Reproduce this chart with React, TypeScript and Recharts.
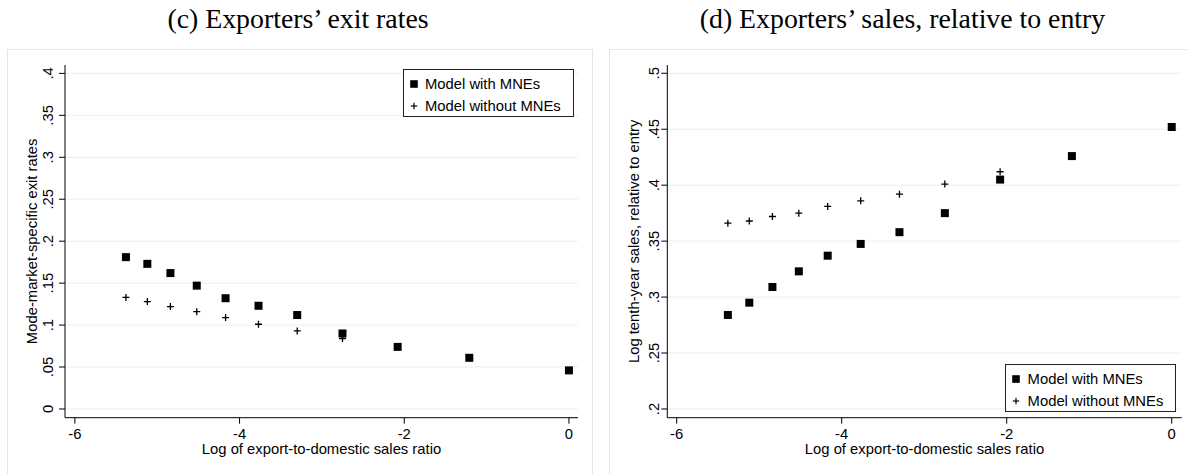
import React from 'react';
import { ScatterChart, Scatter, XAxis, YAxis, CartesianGrid, Legend } from 'recharts';

// log of export-to-domestic sales ratio (shared by both panels)
const logRatio = [-5.38, -5.12, -4.84, -4.52, -4.17, -3.77, -3.3, -2.75, -2.08, -1.21, 0];

// (c) exit rates
const exitWithMNE = [0.181, 0.173, 0.162, 0.147, 0.132, 0.123, 0.112, 0.09, 0.074, 0.061, 0.046];
const exitWithoutMNE = [0.133, 0.128, 0.122, 0.116, 0.109, 0.101, 0.093, 0.084];

// (d) sales relative to entry
const salesWithMNE = [0.284, 0.295, 0.309, 0.323, 0.337, 0.3475, 0.358, 0.375, 0.405, 0.426, 0.452];
const salesWithoutMNE = [0.366, 0.368, 0.372, 0.375, 0.381, 0.386, 0.392, 0.401, 0.412];

const xTicks = [-6, -4, -2, 0];
const exitTicks = [0, 0.05, 0.1, 0.15, 0.2, 0.25, 0.3, 0.35, 0.4];
const salesTicks = [0.2, 0.25, 0.3, 0.35, 0.4, 0.45, 0.5];
const seriesNames = ['Model with MNEs', 'Model without MNEs'];

const SANS = '"Liberation Sans", Arial, Helvetica, sans-serif';
const SERIF = '"Liberation Serif", "Times New Roman", serif';
const GRID = '#e9eff1';
const FRAME = '#e2e8ea';
const FS = 14.8;

const toPoints = (ys: number[]) => ys.map((y, i) => ({ x: logRatio[i], y }));

// stata style: .05 instead of 0.05
const fmt = (v: number) => (v === 0 ? '0' : String(v).replace(/^(-?)0\./, '$1.'));

const SquareMark = ({ cx, cy }: any) => (
  <rect x={cx - 4} y={cy - 4} width={8} height={8} fill="#000" />
);

const PlusMark = ({ cx, cy }: any) => (
  <g stroke="#000" strokeWidth={1.3}>
    <line x1={cx - 3.5} y1={cy} x2={cx + 3.5} y2={cy} />
    <line x1={cx} y1={cy - 3.5} x2={cx} y2={cy + 3.5} />
  </g>
);

const XTick = ({ x, y, payload }: any) => (
  <text x={x} y={y + 15.4} textAnchor="middle" fontFamily={SANS} fontSize={FS} fill="#000">
    {fmt(payload.value)}
  </text>
);

const makeYTick = (gap: number) => ({ x, y, payload }: any) => {
  const bx = x - gap;
  return (
    <text
      x={bx}
      y={y}
      transform={`rotate(-90 ${bx} ${y})`}
      textAnchor="middle"
      fontFamily={SANS}
      fontSize={FS}
      fill="#000"
    >
      {fmt(payload.value)}
    </text>
  );
};

const makeYTitle = (text: string) => (props: any) => {
  const vb = props.viewBox || {};
  const bx = vb.x + 11.6;
  const cy = vb.y + vb.height / 2;
  return (
    <text
      x={bx}
      y={cy}
      transform={`rotate(-90 ${bx} ${cy})`}
      textAnchor="middle"
      fontFamily={SANS}
      fontSize={FS}
      fill="#000"
    >
      {text}
    </text>
  );
};

const XTitle = (props: any) => {
  const vb = props.viewBox || {};
  return (
    <text
      x={vb.x + vb.width / 2}
      y={vb.y + 35.8}
      textAnchor="middle"
      fontFamily={SANS}
      fontSize={FS}
      fill="#000"
    >
      Log of export-to-domestic sales ratio
    </text>
  );
};

const LegendBox = () => (
  <div
    style={{
      position: 'relative',
      width: 171,
      height: 48,
      border: '1px solid #222',
      boxSizing: 'border-box',
      background: '#fff',
      fontFamily: SANS,
      fontSize: FS,
      color: '#000',
    }}
  >
    {seriesNames.map((name, i) => (
      <div key={name} style={{ position: 'absolute', left: 0, top: i === 0 ? 5 : 26.7, height: 18, width: '100%' }}>
        <svg width={16} height={18} style={{ position: 'absolute', left: 2, top: 0 }}>
          {i === 0 ? (
            <rect x={4.2} y={5.2} width={7.6} height={7.6} fill="#000" />
          ) : (
            <g stroke="#000" strokeWidth={1.2}>
              <line x1={4.8} y1={9} x2={11.2} y2={9} />
              <line x1={8} y1={5.8} x2={8} y2={12.2} />
            </g>
          )}
        </svg>
        <span style={{ position: 'absolute', left: 21.3, top: 0, lineHeight: '18px', whiteSpace: 'nowrap' }}>
          {name}
        </span>
      </div>
    ))}
  </div>
);

interface PanelProps {
  left: number;
  width: number;
  margin: { top: number; right: number; bottom: number; left: number };
  xDomain: [number, number];
  yDomain: [number, number];
  yTicks: number[];
  yTitle: string;
  tickGap: number;
  legendPos: { left: number; top: number };
  withData: number[];
  withoutData: number[];
}

const Panel = ({ left, width, margin, xDomain, yDomain, yTicks, yTitle, tickGap, legendPos, withData, withoutData }: PanelProps) => (
  <div style={{ position: 'absolute', left, top: 0 }}>
    <ScatterChart width={width} height={474} margin={margin}>
      <CartesianGrid vertical={false} stroke={GRID} strokeWidth={1} horizontalValues={yTicks} />
      <XAxis
        type="number"
        dataKey="x"
        domain={xDomain}
        ticks={xTicks}
        allowDataOverflow
        height={40}
        tickSize={6}
        tickMargin={0}
        tick={<XTick />}
        axisLine={{ stroke: '#000', strokeWidth: 1 }}
        tickLine={{ stroke: '#000', strokeWidth: 1 }}
        label={{ content: <XTitle /> }}
      />
      <YAxis
        type="number"
        dataKey="y"
        domain={yDomain}
        ticks={yTicks}
        allowDataOverflow
        width={40}
        tickSize={6}
        tickMargin={0}
        tick={makeYTick(tickGap)}
        axisLine={{ stroke: '#000', strokeWidth: 1 }}
        tickLine={{ stroke: '#000', strokeWidth: 1 }}
        label={{ content: makeYTitle(yTitle) }}
      />
      <Legend
        layout="vertical"
        align="center"
        verticalAlign="middle"
        wrapperStyle={{ left: legendPos.left, top: legendPos.top, width: 171, height: 48 }}
        content={() => <LegendBox />}
      />
      <Scatter name={seriesNames[0]} data={toPoints(withData)} shape={SquareMark} isAnimationActive={false} />
      <Scatter name={seriesNames[1]} data={toPoints(withoutData)} shape={PlusMark} isAnimationActive={false} />
    </ScatterChart>
  </div>
);

export default function App() {
  return (
    <div
      style={{
        position: 'fixed',
        left: 0,
        top: 0,
        width: 1188,
        height: 474,
        background: '#fff',
        overflow: 'hidden',
      }}
    >
      <svg width={1188} height={50} style={{ position: 'absolute', left: 0, top: 0 }}>
        <text x={298} y={28.3} textAnchor="middle" fontFamily={SERIF} fontSize={27.8} fill="#000">
          (c) Exporters’ exit rates
        </text>
        <text x={902.5} y={28.3} textAnchor="middle" fontFamily={SERIF} fontSize={27.8} fill="#000">
          (d) Exporters’ sales, relative to entry
        </text>
      </svg>
      <div style={{ position: 'absolute', left: 7, top: 49, width: 586, height: 440, border: `1px solid ${FRAME}`, boxSizing: 'border-box' }} />
      <div style={{ position: 'absolute', left: 609, top: 49, width: 620, height: 440, border: `1px solid ${FRAME}`, boxSizing: 'border-box' }} />
      <Panel
        left={0}
        width={600}
        margin={{ top: 65, right: 22, bottom: 16.3, left: 25 }}
        xDomain={[-6.12, 0.11]}
        yDomain={[-0.0104, 0.41]}
        yTicks={exitTicks}
        yTitle="Mode-market-specific exit rates"
        tickGap={5.7}
        legendPos={{ left: 402.7, top: 69.3 }}
        withData={exitWithMNE}
        withoutData={exitWithoutMNE}
      />
      <Panel
        left={600}
        width={588}
        margin={{ top: 65, right: 6.3, bottom: 16.3, left: 27.3 }}
        xDomain={[-6.114, 0.121]}
        yDomain={[0.1922, 0.5074]}
        yTicks={salesTicks}
        yTitle="Log tenth-year sales, relative to entry"
        tickGap={2.3}
        legendPos={{ left: 405.3, top: 364.3 }}
        withData={salesWithMNE}
        withoutData={salesWithoutMNE}
      />
    </div>
  );
}
